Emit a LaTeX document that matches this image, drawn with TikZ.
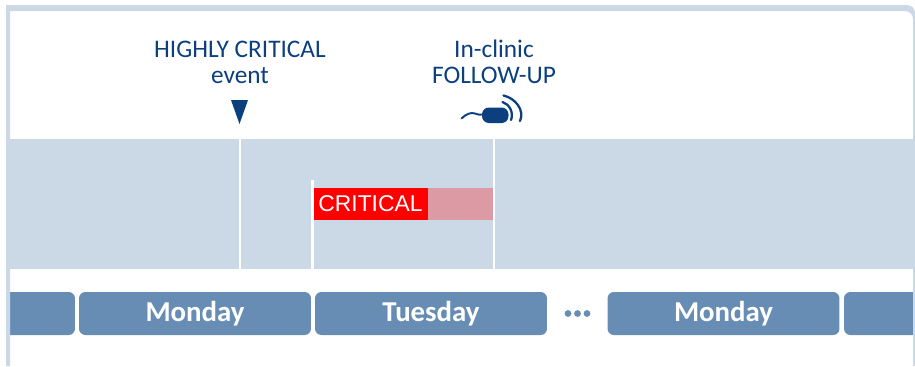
\documentclass[tikz,border=0pt]{standalone}
\usepackage{fontspec}
\setmainfont{Carlito}
\newfontfamily\arialfont{Liberation Sans}
\definecolor{bandblue}{HTML}{CBD9E6}
\definecolor{dayblue}{HTML}{678DB5}
\definecolor{navy}{HTML}{0B3F7E}
\definecolor{palered}{HTML}{DC9AA5}
\begin{document}
\begin{tikzpicture}[x=0.02cm,y=-0.02cm,inner sep=0pt,outer sep=0pt,
dayblock/.style={fill=dayblue,rectangle,rounded corners=3.6pt,minimum height=0.86cm,text=white,font=\fontsize{16.4}{18}\selectfont\bfseries},
label/.style={text=navy,align=center,font=\fontsize{14.4}{14.7}\selectfont},
marker/.style={white,line width=1.2pt}]
\useasboundingbox (0,0) rectangle (915,366);
\fill[bandblue] (6,139) rectangle (915,269);
% days
\begin{scope}
\clip (10,280) rectangle (913,345);
\node[dayblock,minimum width=2.3cm] (prev) at (17.5,313.5) {};
\node[dayblock,minimum width=4.64cm] (mon1) at (195,313.5) {Monday};
\node[dayblock,minimum width=4.64cm] (tue) at (431,313.5) {Tuesday};
\node[dayblock,minimum width=4.64cm] (mon2) at (723.5,313.5) {Monday};
\node[dayblock,minimum width=2.3cm] (next) at (901.5,313.5) {};
\end{scope}
\foreach \x in {568,577.5,587}
  \fill[dayblue] (\x,313.5) circle (3.4);
% frame
\fill[bandblue] (6,366) -- (6,5) -- (907,5) to[out=0,in=90] (915,13) -- (915,366) -- (913,366) -- (913,19)
  to[out=90,in=0] (905,11) -- (10,11) -- (10,366) -- cycle;
% critical bar
\node[fill=red,minimum width=2.28cm,minimum height=0.65cm,text=white,font=\arialfont\fontsize{13}{15}\selectfont] (crit) at (371,204) {\hspace{-.6pt}CRITICAL};
\node[fill=palered,minimum width=1.3cm,minimum height=0.65cm,anchor=west] (rest) at (crit.east) {};
% labels
\node[label] (high) at (240,62) {HIGHLY CRITICAL\\event};
\node[label] (clinic) at (494,62) {In-clinic\\FOLLOW-UP};
\fill[navy] (231,100) -- (248,100) -- (239.5,124) -- cycle;
% lines
\coordinate (a1) at (240,139);
\coordinate (a2) at (240,269);
\coordinate (b1) at (312.5,180);
\coordinate (b2) at (312.5,269);
\coordinate (c1) at (494,139);
\coordinate (c2) at (494,269);
\draw[marker] (a1) -- (a2);
\draw[marker] (b1) -- (b2);
\draw[marker] (c1) -- (c2);
% device
\fill[navy,rounded corners=3.9pt] (482,107.5) rectangle (508.5,123);
\draw[navy,line width=1.1pt,line cap=round] (461.5,118.5) .. controls (466,114) and (471,112) .. (475,113.5) .. controls (477,114.5) and (480,115) .. (483,114.5);
\draw[navy,line width=1.3pt,line cap=round] (502.5,102) .. controls (509,104) and (514,112) .. (511,120);
\draw[navy,line width=1.3pt,line cap=round] (503.5,95.5) .. controls (515,98) and (525,110) .. (520,121);
\end{tikzpicture}
\end{document}
